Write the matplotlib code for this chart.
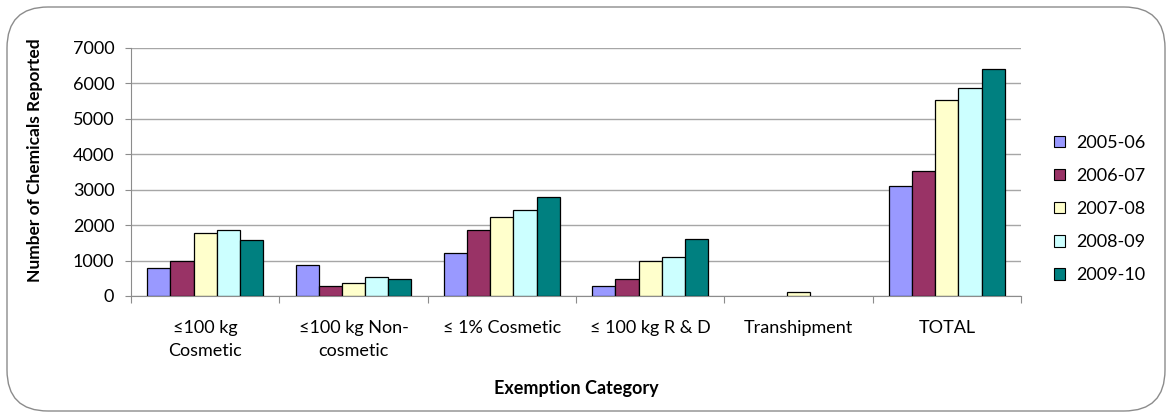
import numpy as np
import matplotlib
matplotlib.use("Agg")
import matplotlib.pyplot as plt
from matplotlib.patches import FancyBboxPatch, Patch

categories = ["≤100 kg\nCosmetic", "≤100 kg Non-\ncosmetic", "≤ 1% Cosmetic",
              "≤ 100 kg R & D", "Transhipment", "TOTAL"]
years = ["2005-06", "2006-07", "2007-08", "2008-09", "2009-10"]
v_2005_06 = [780, 870, 1210, 270, 0, 3100]
v_2006_07 = [1000, 270, 1870, 480, 0, 3540]
v_2007_08 = [1780, 380, 2220, 1000, 110, 5530]
v_2008_09 = [1870, 525, 2440, 1100, 0, 5880]
v_2009_10 = [1570, 485, 2790, 1610, 0, 6400]
series = [v_2005_06, v_2006_07, v_2007_08, v_2008_09, v_2009_10]
colors = ["#9999FF", "#993366", "#FFFFCC", "#CCFFFF", "#008080"]
y_ticks = [0, 1000, 2000, 3000, 4000, 5000, 6000, 7000]

plt.rcParams["font.family"] = ["Lato", "DejaVu Sans"]

W, H = 1172, 417
fig = plt.figure(figsize=(W / 100, H / 100), dpi=100)

# rounded outer frame, kept behind the axes
frame = FancyBboxPatch((7 / W, 6 / H), 1158 / W, 404 / H,
                       boxstyle="round,pad=0,rounding_size=0.035",
                       transform=fig.transFigure, facecolor="white",
                       edgecolor="#8c8c8c", linewidth=1.0, mutation_aspect=W / H,
                       zorder=-10)
fig.patches.append(frame)

left, right, top, bottom = 131, 1021, 48, 296
ax = fig.add_axes([left / W, 1 - bottom / H, (right - left) / W, (bottom - top) / H])
ax.set_facecolor("none")
ax.set_zorder(1)

n = len(series)
group_w = 0.78
bw = group_w / n
x = np.arange(len(categories))
for i, (vals, c) in enumerate(zip(series, colors)):
    bars = ax.bar(x - group_w / 2 + bw * (i + 0.5), vals, width=bw, color=c,
                  edgecolor="black", linewidth=0.9, label=years[i], zorder=3)
    # empty categories show no outline on the baseline
    for b, v in zip(bars, vals):
        if v == 0:
            b.set_edgecolor("none")

ax.set_xlim(-0.5, len(categories) - 0.5)
ax.set_ylim(0, 7000)
ax.set_yticks(y_ticks)
ax.set_yticklabels([str(t) for t in y_ticks], fontsize=13)
ax.yaxis.grid(True, color="#a6a6a6", linewidth=1.0, zorder=0)
ax.set_axisbelow(True)

ax.set_xticks(np.arange(len(categories) + 1) - 0.5, minor=False)
ax.set_xticklabels([])
ax.set_xticks(x, minor=True)
ax.set_xticklabels(categories, minor=True, fontsize=13, linespacing=1.6)
ax.tick_params(axis="x", which="minor", length=0, pad=17)
ax.tick_params(axis="x", which="major", length=5, color="#8c8c8c")
ax.tick_params(axis="y", length=4, color="#8c8c8c", pad=8)

for s in ["top", "right"]:
    ax.spines[s].set_visible(False)
for s in ["left", "bottom"]:
    ax.spines[s].set_color("#8c8c8c")

ax.set_xlabel("Exemption Category", fontsize=13, fontweight="bold", labelpad=15)
ax.set_ylabel("Number of Chemicals Reported", fontsize=12.5, fontweight="bold")
ax.yaxis.set_label_coords((43 - left) / (right - left), (bottom - 160) / (bottom - top))

handles = [Patch(facecolor=c, edgecolor="black", linewidth=0.8) for c in colors]
fig.legend(handles, years, loc="center left", bbox_to_anchor=(1038 / W, 1 - 209 / H),
           frameon=False, fontsize=13, handlelength=0.6, handleheight=0.6,
           labelspacing=0.95, handletextpad=0.6)

fig.savefig("out.png", dpi=100)
